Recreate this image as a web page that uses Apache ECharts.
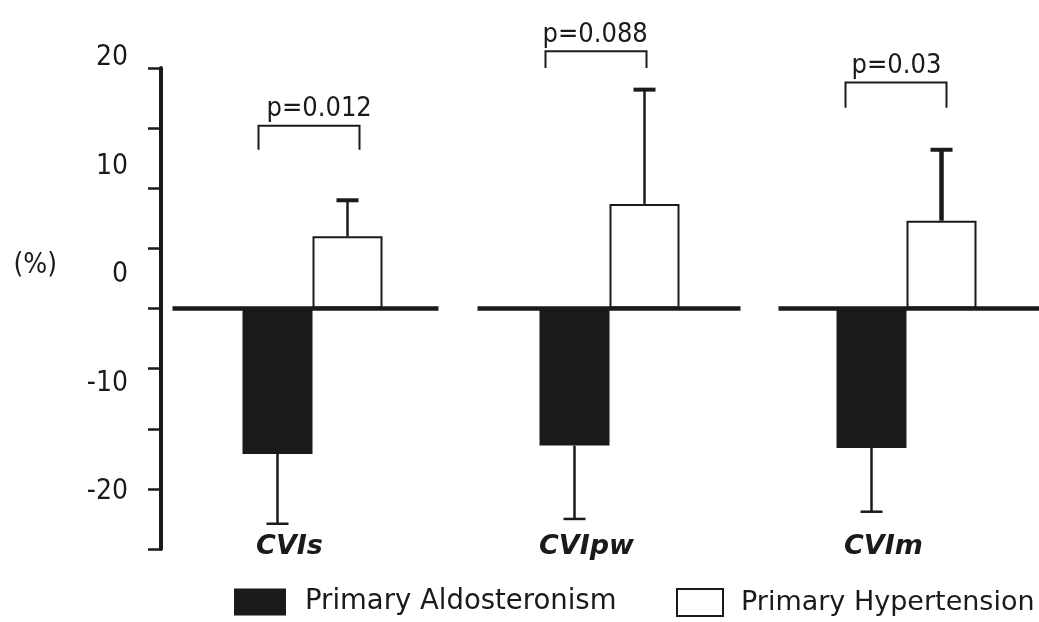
<!DOCTYPE html>
<html><head><meta charset="utf-8">
<script src="https://cdn.jsdelivr.net/npm/echarts@6/dist/echarts.min.js"></script>
<style>html,body{margin:0;padding:0;background:#fff}#c{width:1039px;height:622px}</style>
</head><body><div id="c"></div>
<script>
// ---- data ----
const categories = ['CVIs', 'CVIpw', 'CVIm'];
const seriesNames = ['Primary Aldosteronism', 'Primary Hypertension'];
const paMean = [-12.1, -11.4, -11.6];
const paSD = [5.8, 6.1, 5.3];
const phMean = [6.0, 8.7, 7.3];
const phSD = [3.0, 9.5, 5.9];
const pLabels = ['p=0.012', 'p=0.088', 'p=0.03'];
const bracketTop = [15.2, 21.4, 18.8];
const bracketLegEnd = [13.2, 20.0, 16.7];
const yTickLabelValues = [-20, -10, 0, 10, 20];

// ---- style / layout constants ----
const INK = '#1a1a1a';
const BAR_W = 70;
const NUM_FONT = "'DejaVu Sans Condensed', 'Liberation Sans Narrow', sans-serif";
const phErrWidth = [2.5, 2.5, 4.5];
const BASE_SPAN = [[-140, 126], [-132, 131], [-128, 134]];
const BRACKET_SPAN = [[-54, 47], [-64, 37], [-61, 40]];
const TEXT_DX = [8, -3, 6];

const errData = [];
categories.forEach((c, i) => {
  errData.push([i, paMean[i], paMean[i] - paSD[i], 0]);
  errData.push([i, phMean[i], phMean[i] + phSD[i], 1]);
});
const baseData = categories.map((c, i) => [i, 0]);
const bracketData = categories.map((c, i) => [i, bracketTop[i], bracketLegEnd[i]]);

const chart = echarts.init(document.getElementById('c'), null, {renderer: 'canvas'});
chart.setOption({
  animation: false,
  backgroundColor: '#fff',
  grid: [
    {left: 312.5, top: 68, width: 594, height: 481},
    {left: 161, top: 57.7, width: 10, height: 434.3}
  ],
  legend: [
    {
      left: 234, top: 588, padding: 0, itemWidth: 52, itemHeight: 27, icon: 'rect',
      data: [seriesNames[0]],
      textStyle: {fontFamily: 'DejaVu Sans', fontSize: 27.5, color: INK, padding: [0, 0, 0, 14]}
    },
    {
      left: 676, top: 588, padding: 0, itemWidth: 46, itemHeight: 27, icon: 'rect',
      data: [seriesNames[1]],
      textStyle: {fontFamily: 'DejaVu Sans', fontSize: 27, color: INK, padding: [0, 0, 0, 13]}
    }
  ],
  xAxis: [
    {
      type: 'category', gridIndex: 0, data: categories, boundaryGap: false,
      axisLine: {show: false, onZero: false}, axisTick: {show: false},
      splitLine: {show: false},
      axisLabel: {
        fontFamily: 'DejaVu Sans', fontWeight: 'bold', fontStyle: 'italic',
        fontSize: 27, color: INK, margin: -2, verticalAlign: 'middle',
        padding: [0, 46, 0, 0]
      }
    },
    {type: 'value', gridIndex: 1, show: false}
  ],
  yAxis: [
    {
      type: 'value', gridIndex: 0, min: -20, max: 20, interval: 5, offset: 151.5,
      axisLine: {show: true, lineStyle: {color: INK, width: 4}},
      axisTick: {show: true, length: 13, lineStyle: {color: INK, width: 2.5}},
      axisLabel: {show: false}, splitLine: {show: false}
    },
    {
      type: 'value', gridIndex: 1, min: yTickLabelValues[0],
      max: yTickLabelValues[yTickLabelValues.length - 1], interval: 10,
      axisLine: {show: false}, axisTick: {show: false}, splitLine: {show: false},
      axisLabel: {margin: 33, fontFamily: NUM_FONT, fontSize: 28, color: INK},
      name: '(%)', nameLocation: 'middle', nameRotate: 0, nameGap: 104,
      nameTextStyle: {fontFamily: NUM_FONT, fontSize: 28, color: INK, verticalAlign: 'bottom', lineHeight: 18}
    }
  ],
  series: [
    {
      name: seriesNames[0], type: 'bar', xAxisIndex: 0, yAxisIndex: 0, clip: false,
      data: paMean, barWidth: BAR_W, barGap: '0%',
      itemStyle: {color: INK}
    },
    {
      name: seriesNames[1], type: 'bar', xAxisIndex: 0, yAxisIndex: 0, clip: false,
      data: phMean, barWidth: BAR_W, barGap: '0%',
      itemStyle: {color: '#ffffff', borderColor: INK, borderWidth: 2}
    },
    {
      type: 'custom', xAxisIndex: 0, yAxisIndex: 0, z: 4, data: baseData, clip: false,
      renderItem: function (params, api) {
        const i = api.value(0);
        const c = api.coord([i, api.value(1)]);
        const s = BASE_SPAN[i];
        return {type: 'line', shape: {x1: c[0] + s[0], y1: c[1], x2: c[0] + s[1], y2: c[1]},
          style: {stroke: INK, lineWidth: 4.5}};
      }
    },
    {
      type: 'custom', xAxisIndex: 0, yAxisIndex: 0, z: 3, data: errData, clip: false,
      renderItem: function (params, api) {
        const i = api.value(0), side = api.value(3);
        const a = api.coord([i, api.value(1)]);
        const e = api.coord([i, api.value(2)]);
        const x = a[0] + (side ? BAR_W / 2 : -BAR_W / 2);
        const lw = side ? phErrWidth[i] : 2.5;
        const capW = side ? 4 : 2.5;
        return {type: 'group', children: [
          {type: 'line', shape: {x1: x, y1: a[1], x2: x, y2: e[1]}, style: {stroke: INK, lineWidth: lw}},
          {type: 'line', shape: {x1: x - 11, y1: e[1], x2: x + 11, y2: e[1]}, style: {stroke: INK, lineWidth: capW}}
        ]};
      }
    },
    {
      type: 'custom', xAxisIndex: 0, yAxisIndex: 0, z: 3, data: bracketData, clip: false,
      renderItem: function (params, api) {
        const i = api.value(0);
        const t = api.coord([i, api.value(1)]);
        const b = api.coord([i, api.value(2)]);
        const l = t[0] + BRACKET_SPAN[i][0], r = t[0] + BRACKET_SPAN[i][1];
        return {type: 'group', children: [
          {type: 'polyline', shape: {points: [[l, b[1]], [l, t[1]], [r, t[1]], [r, b[1]]]},
            style: {stroke: INK, lineWidth: 2, fill: null}},
          {type: 'text', x: l + TEXT_DX[i], y: t[1] - 3,
            style: {text: pLabels[params.dataIndex], fill: INK, font: "27px " + NUM_FONT,
              align: 'left', verticalAlign: 'bottom'}}
        ]};
      }
    }
  ]
});
</script></body></html>
